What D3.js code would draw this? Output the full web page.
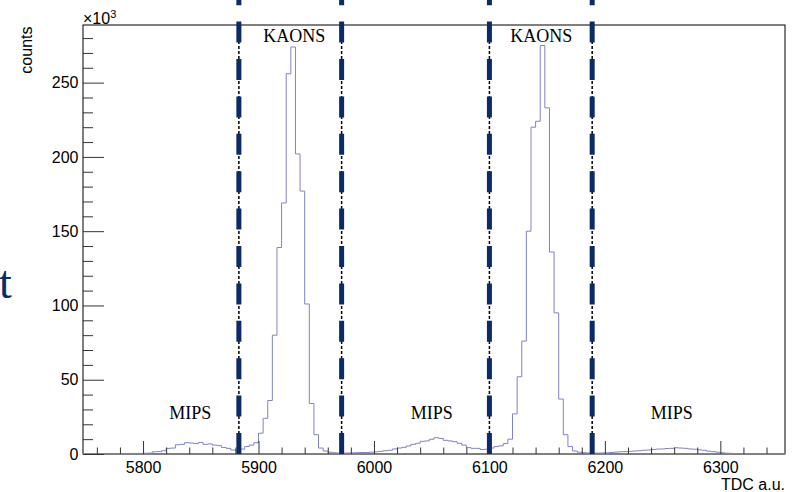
<!DOCTYPE html>
<html>
  <head>
    <title>TDC spectrum</title>
    <script src="https://d3js.org/d3.v7.min.js"></script>
    <style>
      body {
        margin: 0;
        background-color: white;
      }
      svg text {
        font-family: "Liberation Sans", Arial, sans-serif;
        fill: black;
      }
      .axis text {
        font-size: 16px;
      }
      .axis line {
        stroke: #333;
      }
      .label {
        font-family: "Liberation Serif", "Times New Roman", serif !important;
        font-size: 18px;
      }
    </style>
  </head>
  <body>
    <script>
      // histogram: bins of 4 TDC units starting at 5748, counts in thousands
      const binStart = 5748;
      const binWidth = 4;
      const counts = [
        0.3, 0.3, 0.3, 0.3, 0.3, 0.3, 0.3, 0.3, 0.3, 0.3, 0.4, 0.4, 0.4,
        0.5, 0.6, 1.5, 1.6, 2.2, 3.8, 4.0, 6.2, 6.5, 7.6, 7.4, 7.0, 7.8,
        6.5, 6.8, 6.0, 5.6, 4.4, 3.8, 2.7, 2.2, 3.3, 5.0, 6.0, 7.6,
        14, 24, 36, 80, 139, 169, 256, 274, 202, 177, 101, 34, 13, 4, 2,
        1.2, 0.8, 0.6, 0.6, 0.7, 0.8, 0.9, 1.0, 1.0, 1.2, 1.5, 1.8, 2.2,
        2.5, 3.4, 4.0, 4.5, 5.4, 6.5, 7.2, 8.5, 8.8, 9.9, 11, 10.5, 9.2,
        8.8, 8.3, 7.2, 6.0, 4.3, 3.8, 3.8, 3.0, 3.2, 4.0, 5.0, 5.5,
        7, 10, 27, 52, 76, 150, 220, 224, 275, 233, 136, 95, 37, 13, 5, 2,
        1.2, 0.9, 0.7, 0.6, 0.6, 0.7, 0.8, 1.0, 1.3, 1.5, 1.6, 1.8, 2.0,
        2.2, 2.5, 2.7, 3.0, 3.3, 3.4, 3.7, 3.8, 4.2, 4.0, 3.8, 3.4, 3.2,
        2.8, 2.5, 1.9, 1.6, 1.2, 0.8, 0.5, 0.4,
        0.3, 0.3, 0.3, 0.3, 0.3, 0.3, 0.3, 0.3, 0.3, 0.3, 0.3
      ];

      const xTicks = [5800, 5900, 6000, 6100, 6200, 6300];
      const yTicks = [0, 50, 100, 150, 200, 250];

      // cut positions (TDC)
      const cuts = [5883, 5972, 6100, 6189];

      // region names and where they sit (TDC, counts in thousands)
      const regionNames = ['MIPS', 'KAONS', 'MIPS', 'KAONS', 'MIPS'];
      const regionX = [5841, 5931, 6050, 6145, 6258];
      const regionY = [23.6, 277.5, 23.6, 277.5, 23.6];

      const w = 795;
      const h = 492;
      const frame = {left: 83, right: 785, top: 25, bottom: 454};

      const xMin = binStart;
      const xMax = binStart + binWidth * counts.length;
      const yMax = 288.8;

      const xScale = d3.scaleLinear().domain([xMin, xMax]).range([frame.left, frame.right]);
      const yScale = d3.scaleLinear().domain([0, yMax]).range([frame.bottom, frame.top]);

      const svg = d3.select('body')
                    .append('svg')
                    .attr('width', w)
                    .attr('height', h);

      // stray title fragment on the left edge
      svg.append('text')
         .attr('x', -1)
         .attr('y', 298)
         .style('font-family', '"Liberation Serif", serif')
         .style('font-size', '46px')
         .style('fill', '#0b2a66')
         .text('t');

      // frame
      svg.append('rect')
         .attr('x', frame.left)
         .attr('y', frame.top)
         .attr('width', frame.right - frame.left)
         .attr('height', frame.bottom - frame.top)
         .attr('fill', 'none')
         .attr('stroke', 'black')
         .attr('stroke-width', 1);

      // histogram outline
      const pts = counts.map((c, i) => [binStart + i * binWidth, c]);
      pts.push([xMax, counts[counts.length - 1]]);
      const line = d3.line()
                     .x(d => xScale(d[0]))
                     .y(d => yScale(d[1]))
                     .curve(d3.curveStepAfter);
      svg.append('path')
         .attr('d', line(pts))
         .attr('fill', 'none')
         .attr('stroke', '#8282c6')
         .attr('stroke-width', 1);

      // axes
      const xMinor = d3.range(5760, xMax, 20).filter(v => v % 100 !== 0);
      const yMinor = d3.range(10, yMax, 10).filter(v => v % 50 !== 0);

      svg.append('g')
         .attr('class', 'axis')
         .attr('transform', `translate(0, ${frame.bottom})`)
         .call(d3.axisBottom(xScale).tickValues(xMinor).tickSizeInner(-6.5).tickSizeOuter(0).tickFormat(''))
         .call(g => g.select('.domain').remove());
      svg.append('g')
         .attr('class', 'axis')
         .attr('transform', `translate(0, ${frame.bottom})`)
         .call(d3.axisBottom(xScale).tickValues(xTicks).tickSizeInner(-13).tickSizeOuter(0)
                 .tickPadding(8).tickFormat(d3.format('d')))
         .call(g => g.select('.domain').remove());

      svg.append('g')
         .attr('class', 'axis')
         .attr('transform', `translate(${frame.left}, 0)`)
         .call(d3.axisLeft(yScale).tickValues(yMinor).tickSizeInner(-10).tickSizeOuter(0).tickFormat(''))
         .call(g => g.select('.domain').remove());
      svg.append('g')
         .attr('class', 'axis')
         .attr('transform', `translate(${frame.left}, 0)`)
         .call(d3.axisLeft(yScale).tickValues(yTicks).tickSizeInner(-21).tickSizeOuter(0)
                 .tickPadding(4.5).tickFormat(d3.format('d')))
         .call(g => g.select('.domain').remove());

      svg.selectAll('.axis text').style('font-size', '16px');

      // cut lines: thick navy dashes over a thin black dashed line
      svg.selectAll('line.cutThin')
         .data(cuts)
         .enter()
         .append('line')
         .attr('class', 'cutThin')
         .attr('x1', d => xScale(d))
         .attr('x2', d => xScale(d))
         .attr('y1', yScale(0))
         .attr('y2', yScale(yMax))
         .attr('stroke', 'black')
         .attr('stroke-width', 1.5)
         .attr('stroke-dasharray', '3,2');

      svg.selectAll('line.cutThick')
         .data(cuts)
         .enter()
         .append('line')
         .attr('class', 'cutThick')
         .attr('x1', d => xScale(d))
         .attr('x2', d => xScale(d))
         .attr('y1', yScale(0))
         .attr('y2', yScale(yMax * 1.1))
         .attr('stroke', '#0a2a68')
         .attr('stroke-width', 5)
         .attr('stroke-dasharray', '21,16.4');

      // region labels
      svg.selectAll('text.label')
         .data(regionNames)
         .enter()
         .append('text')
         .attr('class', 'label')
         .attr('x', (d, i) => xScale(regionX[i]))
         .attr('y', (d, i) => yScale(regionY[i]))
         .attr('text-anchor', 'middle')
         .text(d => d);

      // axis titles
      svg.append('text')
         .attr('x', frame.right)
         .attr('y', 489.5)
         .attr('text-anchor', 'end')
         .style('font-size', '16px')
         .text('TDC a.u.');

      svg.append('text')
         .attr('transform', 'translate(32, 26.5) rotate(-90)')
         .attr('text-anchor', 'end')
         .style('font-size', '16px')
         .text('counts');

      const mult = svg.append('text')
                      .attr('x', frame.left)
                      .attr('y', 23.5)
                      .style('font-size', '16px');
      mult.append('tspan').text('\u00d710');
      mult.append('tspan')
          .attr('dy', -6)
          .style('font-size', '11px')
          .text('3');
    </script>
  </body>
</html>
